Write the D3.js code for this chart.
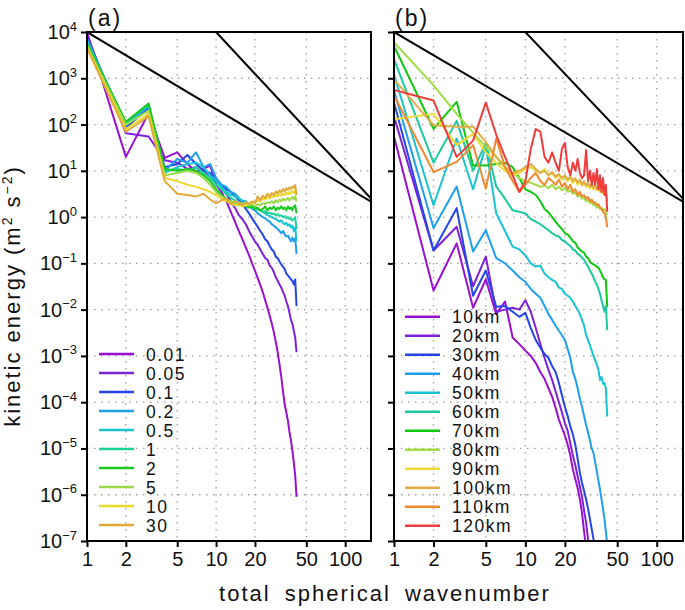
<!DOCTYPE html>
<html><head><meta charset="utf-8">
<script src="https://cdn.jsdelivr.net/npm/d3@7"></script>
<style>body{margin:0;background:#fff}svg{display:block;font-family:'Liberation Sans',Arial,sans-serif}</style>
</head><body><svg id="c" width="685" height="610"></svg>
<script>
// ---------- data ----------
const wavenumber = [1,2,3,4,5,6,7,8,9,10,11,12,13,14,15,16,17,18,19,20,21,22,23,24,25,26,27,28,29,30,31,32,33,34,35,36,37,38,39,40,41,42];
const xTicks = [1,2,5,10,20,50,100];
const yExponents = [4,3,2,1,0,-1,-2,-3,-4,-5,-6,-7];

// panel (a)
const namesA = ["0.01","0.05","0.1","0.2","0.5","1","2","5","10","30"];
const colorsA = ["#9a10d0","#7d22d8","#2545e6","#1e9ff0","#19c3d2","#1ed39a","#19c81e","#9ad94a","#ecd92e","#e1a93a"];
const a001 = [1e4,20,175,19,25,14,9.5,11,13,5,3.5,2.2,1.3,0.8,0.5,0.33,0.22,0.15,0.1,0.07,0.048,0.034,0.024,0.016,0.011,0.0075,0.005,0.0033,0.002,0.0012,6.5e-4,3.5e-4,1.7e-4,9e-5,6e-5,4e-5,2.3e-5,1.5e-5,9e-6,5e-6,2.6e-6,9e-7];
const a005 = [8.5e3,65,55,17,15,11,12,9,8,5,4,3.2,2.2,1.6,1.1,0.9,0.7,0.5,0.38,0.3,0.25,0.2,0.16,0.13,0.12,0.09,0.08,0.065,0.05,0.042,0.035,0.03,0.024,0.02,0.015,0.012,0.0085,0.006,0.005,0.0035,0.0025,0.0012];
const a01 = [7.5e3,85,230,12,14,22,14,10,9,6,5,4,3.5,2.8,2.3,1.9,1.5,1.2,0.95,0.75,0.62,0.5,0.42,0.33,0.3,0.24,0.2,0.18,0.14,0.13,0.11,0.095,0.085,0.075,0.06,0.055,0.05,0.045,0.042,0.035,0.045,0.012];
const a02 = [7e3,95,250,10,18,15,25,12,14,7,5,4.5,3.5,3.2,2.6,2.2,2.0,1.8,1.5,1.4,1.2,1.1,1.0,0.95,0.85,0.8,0.7,0.65,0.6,0.55,0.5,0.45,0.5,0.42,0.38,0.4,0.34,0.3,0.36,0.3,0.35,0.16];
const a05 = [6.5e3,105,260,9,12,14,15,12,8,6,4.5,3.5,3,2.8,2.5,2.3,2.2,1.9,1.8,1.6,1.5,1.4,1.3,1.2,1.1,1.05,1.0,0.95,0.9,0.85,0.8,0.85,0.75,0.7,0.75,0.65,0.7,0.6,0.65,0.5,0.6,0.3];
const a1 = [6e3,110,270,10,11,10,12,9,7,5,4,3.2,2.6,2.3,2.0,1.9,1.8,1.7,1.6,1.5,1.45,1.4,1.3,1.35,1.2,1.25,1.15,1.2,1.1,1.15,1.05,1.1,1.0,1.05,0.95,1.0,0.9,0.95,0.85,0.9,1.0,0.55];
const a2 = [5.5e3,115,285,11,10,11,10,8,6,4,3,2.5,2.2,2,1.8,1.9,1.7,1.6,1.7,1.5,1.6,1.4,1.5,1.7,1.4,1.6,1.5,1.7,1.4,1.6,1.5,1.7,1.5,1.6,1.4,1.7,1.5,1.6,1.4,1.7,1.8,1.2];
const a5 = [5e3,100,200,8,9,10,9,7,5,3.5,2.8,2.4,2.2,2.0,2.1,1.9,2.0,1.8,1.9,1.7,1.9,1.8,2.0,1.9,2.1,2.0,2.2,2.0,2.3,2.1,2.4,2.2,2.5,2.3,2.4,2.6,2.3,2.5,2.7,2.4,2.8,2.2];
const a10 = [4.8e3,80,170,7,6,5,4.5,4,3.5,3,2.5,2.2,2.0,1.8,1.9,1.7,1.8,1.9,2.1,2.0,2.3,2.2,2.5,2.4,2.7,2.5,2.8,2.7,3.0,2.8,3.1,2.9,3.2,3.0,3.4,3.1,3.5,3.2,3.6,3.3,3.8,3.0];
const a30 = [4.5e3,70,150,6,3.2,3,2.8,3.2,2.4,2.0,2.3,2.5,1.9,2.2,2.0,1.8,2.1,1.9,2.2,2.0,2.8,2.3,2.9,2.6,3.2,2.8,3.3,3.0,3.6,3.2,3.8,3.4,4.0,3.6,4.2,3.9,4.4,4.0,4.6,4.3,4.9,3.0];

// panel (b)
const namesB = ["10km","20km","30km","40km","50km","60km","70km","80km","90km","100km","110km","120km"];
const colorsB = ["#9a10d0","#7d22d8","#2545e6","#1e9ff0","#19c3d2","#1ec8a0","#10c810","#a2dc46","#ecdc3a","#e2ac44","#f08a30","#f03c3c"];
const b10 = [55,0.026,0.27,0.011,0.045,0.008,0.015,0.0025,0.0018,0.0013,0.001,7e-4,4.5e-4,3.2e-4,2e-4,1.3e-4,7.5e-5,4.2e-5,2.8e-5,1.9e-5,1.2e-5,7e-6,3.5e-6,2.2e-6,1.4e-6,8e-7,4e-7,1.6e-7,7e-8];
const b20 = [150,0.19,0.62,0.032,0.14,0.009,0.01,0.011,0.01,0.016,0.009,0.004,0.0018,9e-4,5e-4,3e-4,1.7e-4,1e-4,6e-5,3.5e-5,2.4e-5,1.3e-5,7e-6,4.4e-6,2.5e-6,1.5e-6,9e-7,4.5e-7,2.5e-7,1.1e-7,6e-8];
const b30 = [300,0.19,1.56,0.02,0.07,0.0115,0.012,0.009,0.007,0.0085,0.004,0.0022,0.0015,0.0011,9e-4,6e-4,4.5e-4,2.6e-4,1.4e-4,8e-5,5e-5,3e-5,2e-5,1.2e-5,6e-6,3e-6,1.8e-6,1.2e-6,8e-7,5e-7,3e-7,1.8e-7,1.1e-7,6e-8];
const b40 = [550,0.58,4.6,0.18,0.52,0.13,0.1,0.07,0.05,0.04,0.028,0.022,0.018,0.012,0.008,0.006,0.0045,0.0035,0.0028,0.0022,0.0014,9e-4,4.5e-4,3.2e-4,2e-4,1.2e-4,8e-5,5e-5,3.2e-5,2.2e-5,1.5e-5,1e-5,8e-6,5e-6,3.2e-6,2e-6,1.3e-6,8e-7,5e-7,3e-7,1.6e-7,9e-8];
const b50 = [1200,1.8,50,4,35,1.2,0.5,0.23,0.2,0.15,0.1,0.085,0.09,0.06,0.05,0.044,0.04,0.03,0.028,0.022,0.02,0.018,0.015,0.012,0.01,0.008,0.006,0.0045,0.0028,0.0022,0.0017,0.0013,0.001,8e-4,6.5e-4,5e-4,3e-4,3.5e-4,2.5e-4,2.6e-4,2e-4,4.9e-5];
const b60 = [2600,15,120,10,40,4.6,2.5,1.4,1.3,1.2,0.9,0.8,0.7,0.6,0.52,0.45,0.4,0.38,0.32,0.3,0.26,0.24,0.2,0.19,0.16,0.15,0.13,0.12,0.1,0.085,0.07,0.06,0.05,0.04,0.035,0.028,0.022,0.016,0.012,0.009,0.012,0.0036];
const b70 = [5000,81,310,13,13,14,15,12,7,4,3.5,3,2.2,1.5,1.27,1.0,0.8,0.65,0.55,0.45,0.42,0.36,0.3,0.28,0.22,0.2,0.18,0.17,0.14,0.13,0.11,0.1,0.095,0.09,0.085,0.08,0.07,0.06,0.05,0.045,0.044,0.0115];
const b80 = [6000,700,170,67,33,20,12,9,7,6,5.5,5,4.5,4.8,4.2,5,4,4.5,3.8,4.2,3.5,3.8,3.2,3.4,2.8,3,2.5,2.6,2.2,2.4,2,2.1,1.8,1.9,1.6,1.7,1.5,1.6,1.4,1.5,1.3,1.1];
const b90 = [130,170,36,63,25,15,10,8,9,11,12,10,9,11,8,9,7,8,6.5,7.5,6,7,5.5,6.5,5,6,4.8,5.5,4.5,5,4.2,4.8,4,4.5,3.8,4.2,3.5,4,3.2,3.8,3,2.5];
const b100 = [950,96,90,90,42,20,12,9,10,12,14,11,9,10,8,9.5,7.5,8.5,7,8,6.5,7.5,6,7,5.5,6.5,5,6,4.8,5.5,4.5,5.2,4.2,5,4,4.8,3.8,4.5,3.5,4.2,3.2,2.2];
const b110 = [430,9.4,15.6,36,4.1,50,12,6,3.5,5,7,9,6,5,7,6,5,6.5,4.5,5.5,4,5,3.5,4,3,3.5,2.8,3,2.5,2.7,2.2,2.4,2,2.1,1.8,1.9,1.6,1.5,1.3,1.2,1.0,0.6];
const b120 = [560,330,20,45,300,60,20,8,3.5,6,30,80,70,20,15,25,15,10,30,40,12,8,15,10,18,9,7,8,28,6,10,5,9,5,11,4,8,3.5,7,3,5,1.3];

const seriesA = [a001,a005,a01,a02,a05,a1,a2,a5,a10,a30];
const seriesB = [b10,b20,b30,b40,b50,b60,b70,b80,b90,b100,b110,b120];

// reference spectral slopes (k^-5/3 from k=1, k^-3 from k=10)
const slopeLines = [{k0:1, e0:1e4, p:-5/3}, {k0:10, e0:1e4, p:-3}];

// ---------- drawing ----------
const svg = d3.select('#c');
const TOP = 32, BOTTOM = 541, KMAX = 158.5;
const y = d3.scaleLog().domain([1e-7,1e4]).range([BOTTOM,TOP]);

function drawPanel(id, x0, x1, series, names, colors, label, legX, legY, showYLabels){
  const x = d3.scaleLog().domain([1,KMAX]).range([x0,x1]);
  const g = svg.append('g');
  g.append('clipPath').attr('id','clip'+id).append('rect')
    .attr('x',x0).attr('y',TOP).attr('width',x1-x0).attr('height',BOTTOM-TOP);
  // grid
  g.selectAll('.gx').data(xTicks.slice(1)).join('line')
    .attr('x1',d=>x(d)).attr('x2',d=>x(d)).attr('y1',TOP).attr('y2',BOTTOM)
    .attr('stroke','#a0a0a0').attr('stroke-width',1.3).attr('stroke-dasharray','1.5,5.5');
  g.selectAll('.gy').data(yExponents.slice(1,-1)).join('line')
    .attr('y1',d=>y(Math.pow(10,d))).attr('y2',d=>y(Math.pow(10,d))).attr('x1',x0).attr('x2',x1)
    .attr('stroke','#a0a0a0').attr('stroke-width',1.3).attr('stroke-dasharray','1.5,5.5');
  // axes
  const xa = g.append('g').attr('transform',`translate(0,${BOTTOM})`)
    .call(d3.axisBottom(x).tickValues(xTicks).tickSize(6).tickPadding(5).tickFormat(d3.format('d')));
  xa.select('.domain').remove();
  xa.selectAll('line').attr('stroke','#000').attr('stroke-width',2);
  xa.selectAll('text').attr('font-size',20).attr('fill','#111').attr('font-family',"'Liberation Sans',Arial,sans-serif");
  const ya = g.append('g').attr('transform',`translate(${x0},0)`)
    .call(d3.axisLeft(y).tickValues(yExponents.map(e=>Math.pow(10,e))).tickSize(6).tickFormat(''));
  ya.select('.domain').remove();
  ya.selectAll('line').attr('stroke','#000').attr('stroke-width',2);
  if (showYLabels){
    const t = g.selectAll('.yl').data(yExponents).join('text')
      .attr('x',x0-10).attr('y',d=>y(Math.pow(10,d))+7)
      .attr('text-anchor','end').attr('font-size',20).attr('fill','#111');
    t.append('tspan').text('10');
    t.append('tspan').attr('dy',-8.5).attr('font-size',13).text(d=>String(d).replace('-','−'));
  }
  // data lines
  const line = d3.line().x((d,i)=>x(wavenumber[i])).y(d=>y(d));
  const lg = g.append('g').attr('clip-path',`url(#clip${id})`);
  slopeLines.forEach(s=>{
    const pts = [s.k0, KMAX].map(k=>[k, s.e0*Math.pow(k/s.k0, s.p)]);
    lg.append('path').attr('d', d3.line().x(p=>x(p[0])).y(p=>y(p[1]))(pts))
      .attr('fill','none').attr('stroke','#000').attr('stroke-width',2);
  });
  series.forEach((s,i)=>{
    lg.append('path').attr('d',line(s)).attr('fill','none').attr('stroke',colors[i])
      .attr('stroke-width',2).attr('stroke-linejoin','round');
  });
  // frame
  g.append('rect').attr('x',x0).attr('y',TOP).attr('width',x1-x0).attr('height',BOTTOM-TOP)
    .attr('fill','none').attr('stroke','#000').attr('stroke-width',2);
  // legend
  names.forEach((n,i)=>{
    const yy = legY + i*19;
    g.append('line').attr('x1',legX).attr('x2',legX+35).attr('y1',yy).attr('y2',yy)
      .attr('stroke',colors[i]).attr('stroke-width',2.5);
    g.append('text').attr('x',legX+47).attr('y',yy+6.5).attr('font-size',17.5)
      .attr('letter-spacing',1.5).attr('fill','#111').text(n);
  });
  // panel label
  g.append('text').attr('x',x0+1).attr('y',26).attr('font-size',23).attr('letter-spacing',2)
    .attr('fill','#111').text(label);
}

drawPanel('a', 87, 371, seriesA, namesA, colorsA, '(a)', 99, 354, true);
drawPanel('b', 394, 683, seriesB, namesB, colorsB, '(b)', 405, 316.7, false);

// axis titles
const yt = svg.append('text').attr('transform','translate(20,296) rotate(-90)')
  .attr('text-anchor','middle').attr('font-size',22).attr('letter-spacing',2).attr('fill','#111');
yt.append('tspan').text('kinetic energy (m');
yt.append('tspan').attr('dy',-8).attr('font-size',14).text('2');
yt.append('tspan').attr('dy',8).text(' s');
yt.append('tspan').attr('dy',-8).attr('font-size',14).text('−2');
yt.append('tspan').attr('dy',8).text(')');
svg.append('text').attr('x',385).attr('y',601).attr('text-anchor','middle').attr('font-size',22)
  .attr('letter-spacing',2).attr('word-spacing',6).attr('fill','#111').text('total spherical wavenumber');
</script></body></html>
